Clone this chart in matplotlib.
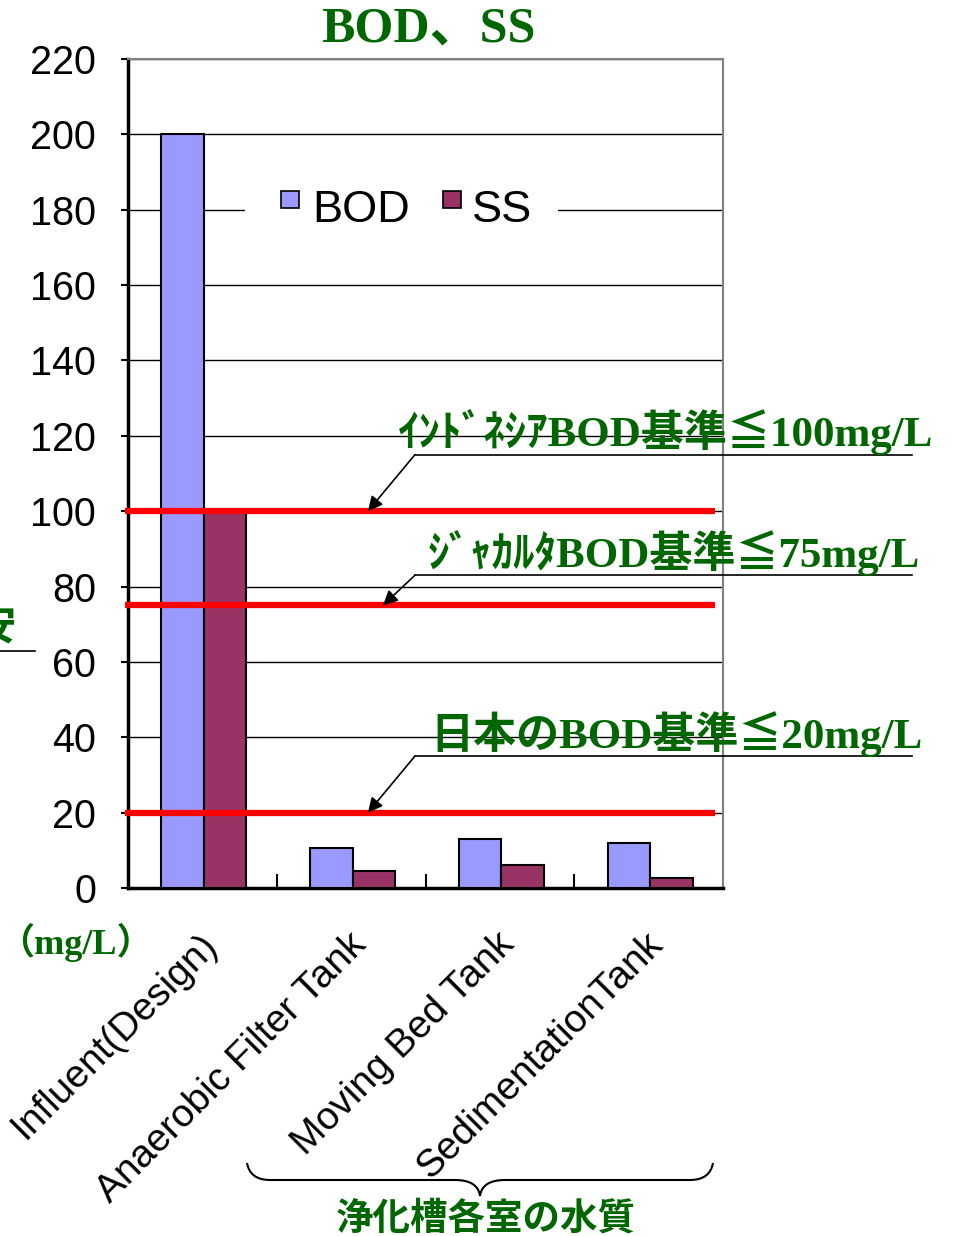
import numpy as np
import matplotlib.pyplot as plt
from matplotlib.patches import Rectangle, PathPatch
from matplotlib.path import Path
from matplotlib.transforms import ScaledTranslation

# water quality by tank chamber (mg/L)
categories = ['Influent(Design)', 'Anaerobic Filter Tank', 'Moving Bed Tank', 'SedimentationTank']
bod = [200, 10.5, 13, 12]
ss = [100, 4.5, 6, 2.7]

# effluent standards for BOD
limit_values = [100, 75, 20]
limit_labels = ['ｲﾝﾄﾞﾈｼｱBOD基準≦100mg/L', 'ｼﾞｬｶﾙﾀBOD基準≦75mg/L', '日本のBOD基準≦20mg/L']

GREEN = '#006600'
BOD_COLOR = '#9999FF'
SS_COLOR = '#993366'
SERIF_JP = ['Liberation Serif', 'Noto Sans CJK JP']
SANS = ['Liberation Sans', 'DejaVu Sans']

W, H = 957, 1236
fig = plt.figure(figsize=(W / 100, H / 100), dpi=100)
ax = fig.add_axes([128 / W, 1 - 888 / H, 595 / W, 829 / H])

x = np.arange(len(categories))
bw = 0.285
ax.bar(x - bw / 2 + 0.01, bod, bw, color=BOD_COLOR, edgecolor='black', linewidth=1.5, zorder=3)
ax.bar(x + bw / 2 + 0.01, ss, bw, color=SS_COLOR, edgecolor='black', linewidth=1.5, zorder=3)

ax.set_xlim(-0.5, len(categories) - 0.5)
ax.set_ylim(0, 220)
ax.set_yticks(np.arange(0, 221, 20))
ax.yaxis.grid(True, color='black', linewidth=1.0, zorder=0)
ax.set_axisbelow(True)

# frame
for side in ['left', 'bottom']:
    ax.spines[side].set_linewidth(2.5)
for side in ['top', 'right']:
    ax.spines[side].set_color('#808080')
    ax.spines[side].set_linewidth(1.5)

ax.tick_params(axis='y', direction='out', length=5, width=1.5, pad=18, labelsize=28.5)
for lab in ax.get_yticklabels():
    lab.set_family(SANS)

ax.set_xticks(x)
ax.set_xticks(np.arange(0.5, len(categories) - 1, 1), minor=True)
ax.tick_params(axis='x', which='major', length=0, pad=37)
ax.tick_params(axis='x', which='minor', direction='in', length=10, width=1.5)
ax.set_xticklabels(categories, rotation=45, ha='right', va='center',
                   rotation_mode='anchor', fontsize=28, family=SANS)
shift = ScaledTranslation(9 / 100, 0, fig.dpi_scale_trans)
for lab in ax.get_xticklabels():
    lab.set_transform(lab.get_transform() + shift)

# standard lines with callouts
tail_dy = [15, 8, 15]
head_x = [1.113, 1.214, 1.113]
text_x = [1.315, 1.517, 1.530]
for val, label, dy, hx, tx in zip(limit_values, limit_labels, tail_dy, head_x, text_x):
    ax.plot([-0.52, 3.446], [val, val], color='red', lw=4.5, solid_capstyle='butt',
            zorder=5, clip_on=False)
    ty = val + dy
    ax.plot([1.429, 4.77], [ty, ty], color='black', lw=1.2, zorder=6, clip_on=False)
    ax.annotate('', xy=(hx, val), xytext=(1.429, ty),
                arrowprops=dict(arrowstyle='-|>', color='black', lw=1.2,
                                mutation_scale=22, shrinkA=0, shrinkB=0),
                zorder=6, annotation_clip=False)
    ax.text(tx, ty + 2.2, label, ha='left', va='baseline', fontsize=31,
            fontweight='bold', color=GREEN, family=SERIF_JP, zorder=7, clip_on=False)

# legend
ax.add_patch(Rectangle((0.197, 0.788), 0.526, 0.06, transform=ax.transAxes,
                       facecolor='white', edgecolor='none', zorder=4))
for sx, tx, color, name in [(0.257, 0.309, BOD_COLOR, 'BOD'), (0.529, 0.578, SS_COLOR, 'SS')]:
    ax.add_patch(Rectangle((sx, 0.820), 0.030, 0.0205, transform=ax.transAxes,
                           facecolor=color, edgecolor='black', lw=1.2, zorder=5))
    ax.text(tx, 0.817, name, transform=ax.transAxes, ha='left', va='center',
            fontsize=32.5, family=SANS, zorder=5)

# title and side labels
fig.text(428 / W, 1 - 30 / H, 'BOD、SS', ha='center', va='center', fontsize=36,
         fontweight='bold', color=GREEN, family=SERIF_JP)
fig.text(75 / W, 1 - 942 / H, '（mg/L）', ha='center', va='center', fontsize=26,
         fontweight='bold', color=GREEN, family=SERIF_JP)
fig.text(16 / W, 1 - 628 / H, '目安', ha='right', va='center', fontsize=30,
         fontweight='bold', color=GREEN, family=['Noto Sans CJK JP'])
fig.add_artist(plt.Line2D([0, 35 / W], [1 - 651 / H, 1 - 651 / H], color='black', lw=1.2))

# brace under the tank categories
pts = [(247, 1163), (250, 1180), (270, 1180), (455, 1180), (478, 1180), (480, 1196),
       (482, 1180), (505, 1180), (690, 1180), (710, 1180), (713, 1163)]
codes = [Path.MOVETO, Path.CURVE3, Path.CURVE3, Path.LINETO, Path.CURVE3, Path.CURVE3,
         Path.CURVE3, Path.CURVE3, Path.LINETO, Path.CURVE3, Path.CURVE3]
verts = [(px / W, 1 - py / H) for px, py in pts]
fig.add_artist(PathPatch(Path(verts, codes), transform=fig.transFigure,
                         facecolor='none', edgecolor='black', lw=1.5))
fig.text(486 / W, 1 - 1218 / H, '浄化槽各室の水質', ha='center', va='center', fontsize=27,
         fontweight='bold', color=GREEN, family=['Noto Sans CJK JP'])

fig.savefig('out.png', dpi=100, facecolor='white')
